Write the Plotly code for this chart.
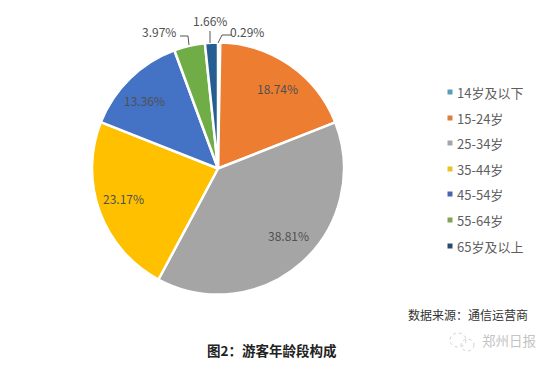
import plotly.graph_objects as go

W, H = 550, 365
categories = ["14岁及以下", "15-24岁", "25-34岁", "35-44岁", "45-54岁", "55-64岁", "65岁及以上"]
values = [0.29, 18.74, 38.81, 23.17, 13.36, 3.97, 1.66]
value_labels = ["0.29%", "18.74%", "38.81%", "23.17%", "13.36%", "3.97%", "1.66%"]
colors = ["#5B9BD5", "#ED7D31", "#A5A5A5", "#FFC000", "#4472C4", "#70AD47", "#255E91"]
legend_colors = ["#5A9DBB", "#DB7F3C", "#A5A5A5", "#EBC224", "#4467AE", "#83A352", "#274A70"]
label_px = [(247, 32), (277, 88), (288, 235), (123, 198), (144, 101), (159, 32), (210, 21)]
legend_y = [92, 118, 143, 169, 194, 220, 246]
FONT = "Noto Sans CJK SC"

def px(x):
    return x / W

def py(y):
    return 1 - y / H

fig = go.Figure(go.Pie(
    labels=categories, values=values, sort=False, direction="clockwise", rotation=0,
    marker=dict(colors=colors, line=dict(color="white", width=2.5)),
    textinfo="none", hoverinfo="label+percent", showlegend=False,
    domain=dict(x=[px(92), px(344)], y=[py(294.5), py(42.5)]),
))

annotations = []
for text, (x, y) in zip(value_labels, label_px):
    annotations.append(dict(x=px(x), y=py(y), xref="paper", yref="paper", text=text, showarrow=False,
                            font=dict(family=FONT, size=12, color="#505050"), xanchor="center", yanchor="middle"))

shapes = []
for name, c, y in zip(categories, legend_colors, legend_y):
    shapes.append(dict(type="rect", xref="paper", yref="paper", x0=px(447.5), x1=px(452.5),
                       y0=py(y + 2.5), y1=py(y - 2.5), fillcolor=c, line=dict(width=0)))
    annotations.append(dict(x=px(455), y=py(y), xref="paper", yref="paper", text=name, showarrow=False,
                            font=dict(family=FONT, size=13, color="#5f5f5f"), xanchor="left", yanchor="middle"))

for pts in [[(180, 36), (188, 36), (189, 45)], [(210, 31), (210, 43)], [(232, 35), (222, 35), (218, 43)]]:
    path = "M " + " L ".join(f"{px(a)} {py(b)}" for a, b in pts)
    shapes.append(dict(type="path", xref="paper", yref="paper", path=path, line=dict(color="#555555", width=1)))

annotations += [
    dict(x=px(406), y=py(314), xref="paper", yref="paper", text="数据来源：通信运营商", showarrow=False,
         font=dict(family=FONT, size=12, color="#333333"), xanchor="left", yanchor="middle"),
    dict(x=px(205), y=py(350), xref="paper", yref="paper", text="<b>图2：游客年龄段构成</b>", showarrow=False,
         font=dict(family=FONT, size=13.5, color="#222222"), xanchor="left", yanchor="middle"),
    dict(x=px(480), y=py(340), xref="paper", yref="paper", text="郑州日报", showarrow=False,
         font=dict(family=FONT, size=13.5, color="#c4c4c4"), xanchor="left", yanchor="middle"),
]

# faint WeChat-style watermark glyph
for x0, x1, y0, y1 in [(450, 466, 333, 347), (461, 474, 339, 351)]:
    shapes.append(dict(type="circle", xref="paper", yref="paper", x0=px(x0), x1=px(x1), y0=py(y1), y1=py(y0),
                       line=dict(color="#d0d0d0", width=1, dash="dot")))

fig.update_layout(width=W, height=H, margin=dict(l=0, r=0, t=0, b=0), paper_bgcolor="white",
                  annotations=annotations, shapes=shapes, font=dict(family=FONT))
fig.write_html("out.html", post_script="document.body.style.margin='0';",
               config={"displayModeBar": False})
